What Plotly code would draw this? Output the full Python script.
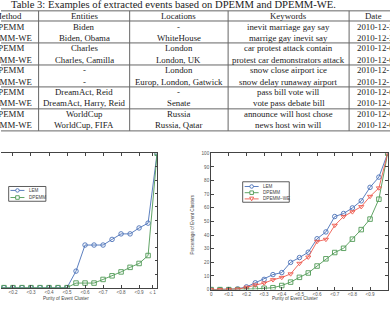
import plotly.graph_objects as go

W, H = 390, 312

# ---------------- table data ----------------
caption = "Table 3: Examples of extracted events based on DPEMM and DPEMM-WE."
headers = ["Method", "Entities", "Locations", "Keywords", "Date"]
methods = ["DPEMM", "DPEMM-WE"] * 5
entities = ["Biden", "Biden, Obama", "Charles", "Charles, Camilla", "-", "-",
            "DreamAct, Reid", "DreamAct, Harry, Reid", "WorldCup", "WorldCup, FIFA"]
locations = ["-", "WhiteHouse", "London", "London, UK", "London", "Europ, London, Gatwick",
             "-", "Senate", "Russia", "Russia, Qatar"]
keywords = ["inevit marriage gay say", "marrige gay inevit say",
            "car protest attack contain", "protest car demonstrators attack",
            "snow close airport ice", "snow delay runaway airport",
            "pass bill vote will", "vote pass debate bill",
            "announce will host chose", "news host win will"]
dates = ["2010-12-22", "2010-12-22", "2010-12-09", "2010-12-09", "2010-12-18",
         "2010-12-18", "2010-12-08", "2010-12-08", "2010-12-02", "2010-12-02"]

# ---------------- chart data ----------------
purity = [0, 0.05, 0.1, 0.15, 0.2, 0.25, 0.3, 0.35, 0.4, 0.45, 0.5,
          0.55, 0.6, 0.65, 0.7, 0.75, 0.8, 0.85, 0.9, 0.95, 1.0]
lem_left = [0, 0, 0, 0, 0, 0, 0, 0, 0, 0, 0,
            12.3, 31.7, 31.7, 31.7, 35.9, 40.0, 40.0, 44.4, 48.0, 100]
dpemm_left = [0, 0, 0, 0, 0, 0, 0, 0, 0, 0, 0,
              3.4, 3.4, 3.4, 6.1, 8.8, 11.7, 15.1, 18.0, 23.9, 100]
lem_right = [0, 0, 0, 0.5, 2.0, 5.0, 7.5, 11.0, 12.5, 20.0, 23.5,
             27.4, 37.3, 42.3, 53.6, 55.8, 59.9, 65.1, 75.0, 82.5, 100]
dpemm_right = [0, 0, 0, 0, 0.2, 0.5, 1.0, 1.4, 3.0, 5.5, 9.0,
               12.2, 17.3, 22.6, 27.2, 30.3, 37.0, 44.0, 51.7, 66.3, 100]
we_right = [0, 0, 0, 0.3, 1.7, 3.4, 4.8, 7.2, 8.9, 11.5, 19.2,
            23.8, 35.3, 36.8, 47.1, 53.6, 57.0, 60.8, 68.3, 74.5, 100]

x_tickvals_left = [0.1, 0.2, 0.3, 0.4, 0.5, 0.6, 0.7, 0.8, 0.9, 0.975]
x_ticktext_left = ["<0.1", "<0.2", "<0.3", "<0.4", "<0.5", "<0.6", "<0.7", "<0.8", "<0.9", "≤ 1"]
x_tickvals_right = [0, 0.1, 0.2, 0.3, 0.4, 0.5, 0.6, 0.7, 0.8, 0.9, 1.0]
x_ticktext_right = ["0", "<0.1", "<0.2", "<0.3", "<0.4", "<0.5", "<0.6", "<0.7", "<0.8", "<0.9", "≤ 1"]
y_tickvals = [0, 10, 20, 30, 40, 50, 60, 70, 80, 90, 100]

BLUE = "#4a70b8"
GREEN = "#4f9a55"
RED = "#ee5a4e"
SERIF = "Liberation Serif"
SANS = "Liberation Sans"


def px(x):
    return x / W


def py(y):
    return 1 - y / H


fig = go.Figure()

mk = dict(size=4.5, line=dict(width=0.9))
fig.add_trace(go.Scatter(x=purity, y=lem_left, mode="lines+markers", xaxis="x", yaxis="y",
                         line=dict(color=BLUE, width=0.9),
                         marker=dict(symbol="circle-open", color=BLUE, **mk), showlegend=False))
fig.add_trace(go.Scatter(x=purity, y=dpemm_left, mode="lines+markers", xaxis="x", yaxis="y",
                         line=dict(color=GREEN, width=0.9),
                         marker=dict(symbol="square-open", color=GREEN, **mk), showlegend=False))
fig.add_trace(go.Scatter(x=purity, y=lem_right, mode="lines+markers", xaxis="x2", yaxis="y2",
                         line=dict(color=BLUE, width=0.9),
                         marker=dict(symbol="circle-open", color=BLUE, **mk), showlegend=False))
fig.add_trace(go.Scatter(x=purity, y=dpemm_right, mode="lines+markers", xaxis="x2", yaxis="y2",
                         line=dict(color=GREEN, width=0.9),
                         marker=dict(symbol="square-open", color=GREEN, **mk), showlegend=False))
fig.add_trace(go.Scatter(x=purity, y=we_right, mode="lines+markers", xaxis="x2", yaxis="y2",
                         line=dict(color=RED, width=0.9),
                         marker=dict(symbol="triangle-down-open", color=RED, **mk), showlegend=False))

tickfont = dict(family=SANS, size=4.6, color="#555")
axcommon = dict(showgrid=False, zeroline=False, showline=True, linecolor="#444", linewidth=1,
                ticks="inside", ticklen=2.5, tickwidth=0.7, tickcolor="#444", tickfont=tickfont)

fig.update_layout(
    xaxis=dict(domain=[0, px(156.5)], range=[0.1335, 1.0], anchor="y",
               tickvals=x_tickvals_left, ticktext=x_ticktext_left, mirror="ticks", **axcommon),
    yaxis=dict(domain=[py(290.3), py(153.7)], range=[0, 100], anchor="x", side="right",
               tickvals=y_tickvals, showticklabels=False, **axcommon),
    xaxis2=dict(domain=[px(210.7), px(387.7)], range=[0, 1.0], anchor="y2",
                tickvals=x_tickvals_right, ticktext=x_ticktext_right, mirror="ticks", **axcommon),
    yaxis2=dict(domain=[py(292.3), py(153.7)], range=[0, 100], anchor="x2",
                tickvals=y_tickvals, ticksuffix="%", mirror="ticks", **axcommon),
)

shapes = []
annotations = []

# ---------- table ----------
line_col = "#666"
h_lines = [9, 19.3, 41.6, 64, 86.3, 108.6, 131]
for yy in h_lines:
    shapes.append(dict(type="line", xref="paper", yref="paper", x0=0, x1=1, y0=py(yy), y1=py(yy),
                       line=dict(color=line_col, width=1)))
for xx in [37.7, 129, 227.7, 349]:
    shapes.append(dict(type="line", xref="paper", yref="paper", x0=px(xx), x1=px(xx),
                       y0=py(9), y1=py(131), line=dict(color=line_col, width=1)))

tfont = dict(family=SERIF, size=8.8, color="#222")
annotations.append(dict(text=caption, x=px(173), y=py(2.6), xref="paper", yref="paper",
                        showarrow=False, xanchor="center", yanchor="middle",
                        font=dict(family=SERIF, size=10.6, color="#222")))
col_x = [7, 83.4, 178.4, 288.3, 373.5]
for hdr, cx in zip(headers, col_x):
    annotations.append(dict(text=hdr, x=px(cx), y=py(14.3), xref="paper", yref="paper",
                            showarrow=False, xanchor="center", yanchor="middle", font=tfont))
for i in range(len(methods)):
    g, r = divmod(i, 2)
    yy = 19.3 + g * 22.35 + r * 11.2 + 5.6
    for val, cx in zip([methods[i], entities[i], locations[i], keywords[i]], col_x[:4]):
        annotations.append(dict(text=val, x=px(cx), y=py(yy), xref="paper", yref="paper",
                                showarrow=False, xanchor="center", yanchor="middle", font=tfont))
    annotations.append(dict(text=dates[i], x=px(354.5), y=py(yy), xref="paper", yref="paper",
                            showarrow=False, xanchor="left", yanchor="middle", font=tfont))

# ---------- axis titles ----------
afont = dict(family=SANS, size=4.6, color="#444")
annotations.append(dict(text="Purity of Event Cluster", x=px(65), y=py(301), xref="paper", yref="paper",
                        showarrow=False, xanchor="center", yanchor="middle", font=afont))
annotations.append(dict(text="Purity of Event Cluster", x=px(295), y=py(301.5), xref="paper", yref="paper",
                        showarrow=False, xanchor="center", yanchor="middle", font=afont))
annotations.append(dict(text="Percentage of Event Clusters", x=px(191.7), y=py(226), xref="paper",
                        yref="paper", showarrow=False, textangle=-90, xanchor="center",
                        yanchor="middle", font=afont))


# ---------- legends (drawn manually for matlab-like compactness) ----------
def legend_box(x0, x1, y0, y1):
    shapes.append(dict(type="rect", xref="paper", yref="paper", x0=px(x0), x1=px(x1),
                       y0=py(y1), y1=py(y0), line=dict(color="#333", width=0.8),
                       fillcolor="white"))


def legend_entry(lx0, lx1, yy, color, sym, label):
    shapes.append(dict(type="line", xref="paper", yref="paper", x0=px(lx0), x1=px(lx1),
                       y0=py(yy), y1=py(yy), line=dict(color=color, width=0.9)))
    cx = (lx0 + lx1) / 2
    r = 1.8
    if sym == "circle":
        shapes.append(dict(type="circle", xref="paper", yref="paper", x0=px(cx - r), x1=px(cx + r),
                           y0=py(yy + r), y1=py(yy - r), line=dict(color=color, width=0.9),
                           fillcolor="white"))
    elif sym == "square":
        shapes.append(dict(type="rect", xref="paper", yref="paper", x0=px(cx - r), x1=px(cx + r),
                           y0=py(yy + r), y1=py(yy - r), line=dict(color=color, width=0.9),
                           fillcolor="white"))
    else:
        path = "M {} {} L {} {} L {} {} Z".format(px(cx - r * 1.1), py(yy - r), px(cx + r * 1.1),
                                                 py(yy - r), px(cx), py(yy + r * 1.1))
        shapes.append(dict(type="path", xref="paper", yref="paper", path=path,
                           line=dict(color=color, width=0.9), fillcolor="white"))
    annotations.append(dict(text=label, x=px(lx1 + 2.5), y=py(yy), xref="paper", yref="paper",
                            showarrow=False, xanchor="left", yanchor="middle", font=afont))


legend_box(7.7, 45, 187.5, 202.5)
legend_entry(9.5, 23.5, 191.5, BLUE, "circle", "LEM")
legend_entry(9.5, 23.5, 198.7, GREEN, "square", "DPEMM")

legend_box(242.3, 289, 182.7, 203.5)
legend_entry(244.3, 258.3, 187.5, BLUE, "circle", "LEM")
legend_entry(244.3, 258.3, 193.8, GREEN, "square", "DPEMM")
legend_entry(244.3, 258.3, 200.1, RED, "triangle", "DPEMM–WE")

fig.update_layout(width=W, height=H, margin=dict(l=0, r=0, t=0, b=0),
                  paper_bgcolor="white", plot_bgcolor="white",
                  shapes=shapes, annotations=annotations, showlegend=False)

fig.write_html("out.html")
